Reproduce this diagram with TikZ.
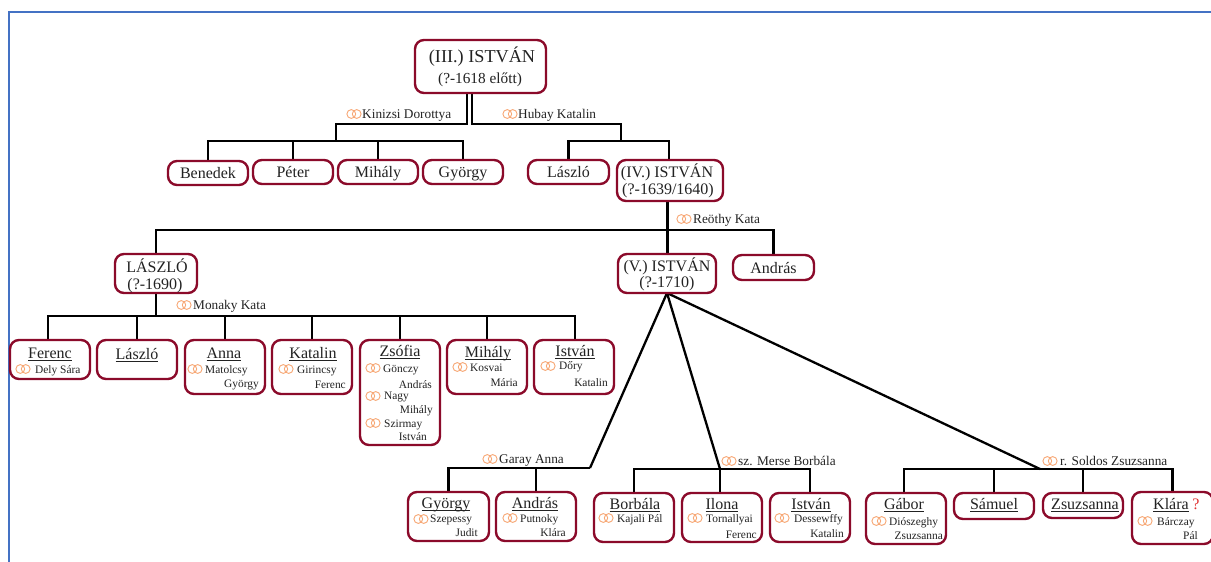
\documentclass[tikz,border=0pt]{standalone}
\usepackage{fontspec}
\setmainfont{Liberation Serif}
\definecolor{boxred}{HTML}{8B0A2A}
\definecolor{ringor}{HTML}{F7A673}
\definecolor{framebl}{HTML}{4472C4}
\definecolor{ink}{HTML}{222222}
\definecolor{qred}{HTML}{E03030}
\pgfdeclarelayer{connlayer}
\pgfsetlayers{connlayer,main}
\newcommand\ulname[1]{\setbox0\hbox{#1}\rlap{\rule[-2.6pt]{\wd0}{0.8pt}}\box0}
\newcommand\famname[4]{\node[nm] (#1) at (#2,#3) {\ulname{#4}};}
\newcommand\bx[5]{\node[fbox,minimum width={(#4-#2)*1pt},minimum height={(#5-#3)*1pt}] (#1) at ({(#2+#4)/2},{(#3+#5)/2}) {};}
\newcommand\bxt[6]{\node[fbox,text height=13pt,text depth=2pt,minimum width={(#4-#2)*1pt},minimum height={(#5-#3)*1pt}] (#1) at ({(#2+#4)/2},{(#3+#5)/2}) {#6};}
\newcommand\sps[5]{\path (#2,#3) pic {rings}; \node[sp] (#1) at (#2+#4,#3+4) {#5};}
\newcommand\smL[4]{\node[smallL] (#1) at (#2,#3) {#4};}
\newcommand\smR[4]{\node[smallR] (#1) at (#2,#3) {#4};}
\tikzset{
  fbox/.style={draw=boxred,fill=white,line width=2.4pt,rounded corners=9pt,inner sep=0pt,outer sep=0pt,font=\fontsize{16}{18}\selectfont,text=ink},
  nm/.style={anchor=base,inner sep=0pt,font=\fontsize{16}{18}\selectfont,text=ink},
  big/.style={anchor=base,inner sep=0pt,font=\fontsize{18.2}{20}\selectfont,text=ink},
  sub/.style={anchor=base,inner sep=0pt,font=\fontsize{15.3}{18}\selectfont,text=ink},
  sp/.style={anchor=base west,inner sep=0pt,font=\fontsize{13.3}{15}\selectfont,text=ink},
  smallL/.style={anchor=base west,inner sep=0pt,font=\fontsize{11.4}{13}\selectfont,text=ink},
  smallR/.style={anchor=base east,inner sep=0pt,font=\fontsize{11.4}{13}\selectfont,text=ink},
  conn/.style={draw=black,line width=2.3pt,line join=miter},
  rings/.pic={
    \draw[ringor,line width=0.9pt] (-2.7,0) circle [radius=4.4pt];
    \draw[ringor,line width=0.9pt] (2.7,0) circle [radius=4.4pt];
  }
}
\begin{document}
\begin{tikzpicture}[x=1pt,y=-1pt]
\useasboundingbox (0,0) rectangle (1211,562);
\clip (0,0) rectangle (1211,562);
\draw[framebl,line width=2.6pt] (9,562) -- (9,12) -- (1211,12);

% boxes
\bx{ist3}{415}{40}{546}{93}
\bxt{ben}{168}{161}{248}{185}{Benedek}
\bxt{pet}{253}{160}{333}{184}{Péter}
\bxt{mih}{338}{160}{418}{184}{Mihály}
\bxt{gyo}{423}{160}{503}{184}{György}
\bxt{las}{528}{160}{609}{184}{László}
\bx{ist4}{617}{160}{723}{201}
\bx{las2}{115}{254}{197}{293}
\bx{ist5}{618}{254}{716}{293}
\bxt{and}{733}{255}{814}{280}{András}
\bx{fer}{10}{340}{90}{379}
\bx{las3}{97}{340}{177}{379}
\bx{ann}{185}{340}{265}{394}
\bx{kat}{272}{340}{352}{394}
\bx{zso}{360}{340}{440}{445}
\bx{mih2}{447}{340}{527}{394}
\bx{ist6}{534}{340}{614}{394}
\bx{gyo2}{408}{492}{489}{541}
\bx{and2}{496}{492}{576}{541}
\bx{bor}{594}{493}{674}{542}
\bx{ilo}{682}{493}{762}{542}
\bx{ist7}{770}{493}{850}{542}
\bx{gab}{866}{493}{946}{544}
\bx{sam}{954}{493}{1034}{519}
\bx{zsu}{1043}{493}{1123}{518}
\bx{kla}{1132}{492}{1213}{544}

% connectors
\coordinate (jk) at (336,124);
\coordinate (jh) at (621,124);
\coordinate (bk) at (336,141);
\coordinate (bh) at (621,141);
\coordinate (b4) at (667.5,230);
\coordinate (b5) at (156,316);
\coordinate (jg) at (590,468);
\coordinate (jm) at (720,469);
\coordinate (js) at (1040,469);
\begin{pgfonlayer}{connlayer}
\draw[conn] ([xshift=-13.5pt]ist3.south) |- (jk) -- (bk);
\draw[conn] ([xshift=-8.5pt]ist3.south) |- (jh) -- (bh);
\draw[conn] (ben.north) |- (bk) -| (gyo.north);
\draw[conn] (pet.north) -- (pet.north |- bk);
\draw[conn] (mih.north) -- (mih.north |- bk);
\draw[conn] (las.north) |- (bh) -| ([xshift=-1pt]ist4.north);
\draw[conn] ([xshift=-2.5pt]ist4.south) -- (b4);
\draw[conn] (las2.north) |- (b4) -| (and.north);
\draw[conn] (b4) -- ([xshift=0.5pt]ist5.north);
\draw[conn] (las2.south) -- (b5);
\draw[conn] ([xshift=-2pt]fer.north) |- (b5) -| ([xshift=1pt]ist6.north);
\foreach \n in {las3,ann,kat,zso,mih2}{\draw[conn] (\n.north) -- (\n.north |- b5);}
\draw[conn] (ist5.south) -- (jg);
\draw[conn] (ist5.south) -- (jm);
\draw[conn] (ist5.south) -- (js);
\draw[conn] (gyo2.north) |- (jg);
\draw[conn] (and2.north) -- (and2.north |- jg);
\draw[conn] (bor.north) |- (jm) -| (ist7.north);
\draw[conn] ([xshift=-2pt]ilo.north) -- (jm);
\draw[conn] ([xshift=-2pt]gab.north) |- (js) -| (kla.north);
\draw[conn] (sam.north) -- (sam.north |- js);
\draw[conn] (zsu.north) -- (zsu.north |- js);
\end{pgfonlayer}

% headings
\node[big] (t3a) at (482,62) {(III.) ISTVÁN};
\node[sub] (t3b) at (480,83) {(?-1618 előtt)};
\node[nm] (t4a) at (667,177) {(IV.) ISTVÁN};
\node[nm] (t4b) at (668,194) {(?-1639/1640)};
\node[nm] (t5a) at (667,271) {(V.) ISTVÁN};
\node[nm] (t5b) at (667,287) {(?-1710)};
\node[nm] (t2a) at (157,272) {LÁSZLÓ};
\node[nm] (t2b) at (155,289) {(?-1690)};

% spouses on the connectors
\sps{s1}{354}{114}{8}{Kinizsi Dorottya}
\sps{s2}{510}{114}{8}{Hubay Katalin}
\sps{s3}{684}{219}{9}{Reöthy Kata}
\sps{s4}{184}{305}{9}{Monaky Kata}
\sps{s5}{490}{459}{9}{Garay Anna}
\sps{s6}{729}{461}{9}{sz. Merse Borbála}
\sps{s7}{1050}{461}{10}{r. Soldos Zsuzsanna}

% row of László
\famname{nfer}{50}{358}{Ferenc}
\path (23,369) pic {rings}; \smL{a1}{35}{373}{Dely Sára}
\famname{nlas}{137}{359}{László}
\famname{nann}{224}{358}{Anna}
\path (195,369) pic {rings}; \smL{a2}{205}{373}{Matolcsy} \smR{a3}{259}{387}{György}
\famname{nkat}{313}{358}{Katalin}
\path (286,369) pic {rings}; \smL{a4}{297}{373}{Girincsy} \smR{a5}{346}{388}{Ferenc}
\famname{nzso}{400}{356}{Zsófia}
\path (373,368) pic {rings}; \smL{a6}{383}{372}{Gönczy} \smR{a7}{432}{388}{András}
\path (373,396) pic {rings}; \smL{a8}{384}{399}{Nagy} \smR{a9}{433}{413}{Mihály}
\path (373,423) pic {rings}; \smL{a10}{384}{427}{Szirmay} \smR{a11}{427}{440}{István}
\famname{nmih}{488}{357}{Mihály}
\path (460,367) pic {rings}; \smL{a12}{470}{371}{Kosvai} \smR{a13}{518}{386}{Mária}
\famname{nist}{575}{356}{István}
\path (548,366) pic {rings}; \smL{a14}{559}{369}{Dőry} \smR{a15}{608}{386}{Katalin}

% bottom row
\famname{ngyo}{446}{508}{György}
\path (421,519) pic {rings}; \smL{b1}{430}{522}{Szepessy} \smR{b2}{478}{536}{Judit}
\famname{nand}{535}{508}{András}
\path (510,518) pic {rings}; \smL{b3}{520}{522}{Putnoky} \smR{b4x}{566}{536}{Klára}
\famname{nbor}{635}{509}{Borbála}
\path (606,518) pic {rings}; \smL{b5x}{617}{522}{Kajali Pál}
\famname{nilo}{722}{509}{Ilona}
\path (695,518) pic {rings}; \smL{b6}{706}{522}{Tornallyai} \smR{b7}{757}{538}{Ferenc}
\famname{nist2}{811}{509}{István}
\path (782,518) pic {rings}; \smL{b8}{794}{522}{Dessewffy} \smR{b9}{844}{537}{Katalin}
\famname{ngab}{904}{509}{Gábor}
\path (879,521) pic {rings}; \smL{b10}{889}{525}{Diószeghy} \smR{b11}{943}{539}{Zsuzsanna}
\famname{nsam}{994}{509}{Sámuel}
\famname{nzsu}{1085}{509}{Zsuzsanna}
\famname{nkla}{1171}{509}{Klára}
\node[nm,text=qred] (qm) at (1196,509) {?};
\path (1145,521) pic {rings}; \smL{b12}{1157}{525}{Bárczay} \smR{b13}{1198}{539}{Pál}
\end{tikzpicture}
\end{document}
